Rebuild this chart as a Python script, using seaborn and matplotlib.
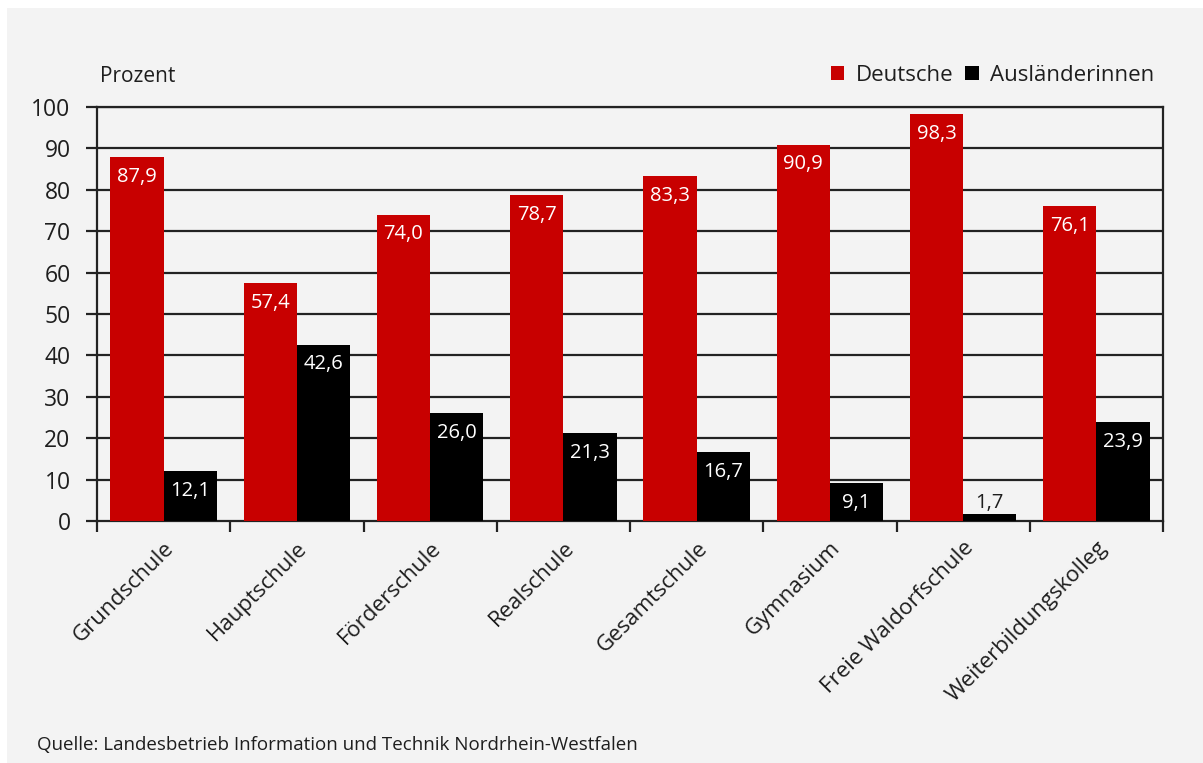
import matplotlib
matplotlib.use("Agg")
import matplotlib.pyplot as plt
import seaborn as sns
import pandas as pd
from matplotlib.patches import Rectangle

categories = ["Grundschule", "Hauptschule", "Förderschule", "Realschule",
              "Gesamtschule", "Gymnasium", "Freie Waldorfschule", "Weiterbildungskolleg"]
deutsche = [87.9, 57.4, 74.0, 78.7, 83.3, 90.9, 98.3, 76.1]
auslaender = [12.1, 42.6, 26.0, 21.3, 16.7, 9.1, 1.7, 23.9]
series_names = ["Deutsche", "Ausländerinnen"]
y_ticks = [0, 10, 20, 30, 40, 50, 60, 70, 80, 90, 100]

RED = "#c80000"
BLACK = "#000000"
BG = "#f3f3f3"
TXT = "#1e1e1e"

sns.set_theme(style="white")
plt.rcParams["font.family"] = ["Open Sans", "DejaVu Sans"]

df = pd.DataFrame({
    "Schule": categories * 2,
    "Wert": deutsche + auslaender,
    "Gruppe": [series_names[0]] * len(categories) + [series_names[1]] * len(categories),
})

W, H = 1203, 763
fig = plt.figure(figsize=(W / 100, H / 100), dpi=100)
fig.patch.set_facecolor("white")
fig.patches.append(Rectangle((7 / W, 0), 1 - 7 / W, (H - 8) / H, transform=fig.transFigure,
                             facecolor=BG, edgecolor="none", zorder=-10))

ax = fig.add_axes([97 / W, 1 - 521 / H, (1163 - 97) / W, (521 - 107) / H])
ax.set_facecolor(BG)

sns.barplot(data=df, x="Schule", y="Wert", hue="Gruppe", order=categories,
            hue_order=series_names, palette=[RED, BLACK], width=0.8,
            saturation=1, ax=ax, zorder=3, legend=True, linewidth=0, edgecolor="none")

ax.set_ylim(0, 100)
ax.set_xlim(-0.5, len(categories) - 0.5)
ax.set_yticks(y_ticks)
ax.set_yticklabels([str(t) for t in y_ticks], fontsize=16.5, color=TXT)
for t in y_ticks[1:]:
    ax.axhline(t, color="#222222", lw=1.6, zorder=1)

for s in ax.spines.values():
    s.set_color("#222222")
    s.set_linewidth(1.6)
    s.set_visible(True)

ax.tick_params(axis="y", which="major", length=8, width=1.6, color="#222222", pad=11, direction="out", left=True)
ax.set_xticks(range(len(categories)))
ax.set_xticks([i - 0.5 for i in range(len(categories) + 1)], minor=True)
ax.tick_params(axis="x", which="major", length=0, pad=12)
ax.tick_params(axis="x", which="minor", length=8, width=1.6, color="#222222", direction="out", bottom=True)
ax.set_xticklabels(categories, rotation=45, ha="right", rotation_mode="anchor", fontsize=16, color=TXT)
ax.set_xlabel("")
ax.set_ylabel("")

# value labels
for cont in ax.containers:
    for bar in cont:
        h = bar.get_height()
        x = bar.get_x() + bar.get_width() / 2
        lab = f"{h:.1f}".replace(".", ",")
        if h > 8:
            ax.annotate(lab, (x, h), xytext=(0, -7), textcoords="offset points",
                        ha="center", va="top", color="white", fontsize=14.5, zorder=5)
        else:
            ax.annotate(lab, (x, h), xytext=(0, 1), textcoords="offset points",
                        ha="center", va="bottom", color=TXT, fontsize=14.5, zorder=5)

handles, labels = ax.get_legend_handles_labels()
ax.legend(handles, labels, loc="lower right", bbox_to_anchor=(1.0, 1.03), ncol=2,
          frameon=False, fontsize=16, handlelength=0.6, handleheight=0.6,
          handletextpad=0.5, columnspacing=0.55, borderaxespad=0, labelcolor=TXT)

fig.text(100 / W, 1 - 77 / H, "Prozent", fontsize=15, color=TXT, ha="left", va="center")
fig.text(37 / W, 1 - 745 / H, "Quelle: Landesbetrieb Information und Technik Nordrhein-Westfalen",
         fontsize=13.5, color=TXT, ha="left", va="center")

fig.savefig("out.png", dpi=100, facecolor=fig.get_facecolor())
